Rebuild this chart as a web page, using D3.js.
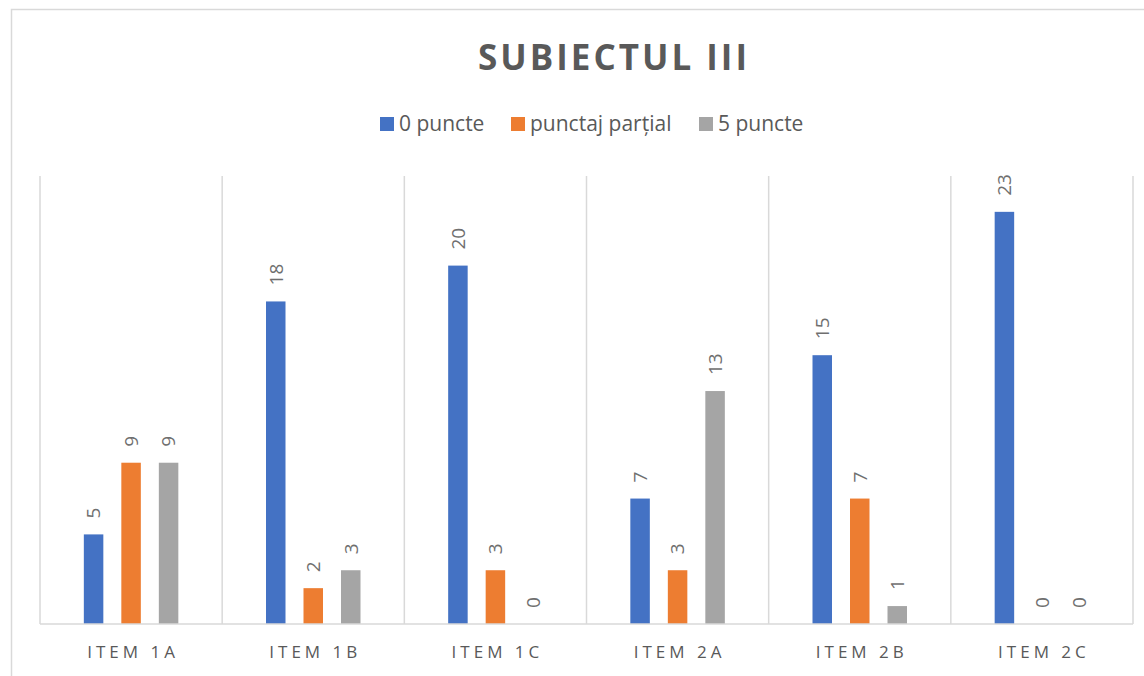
<!DOCTYPE html>
<html>
<head>
<meta charset="utf-8">
<script src="https://cdn.jsdelivr.net/npm/d3@7"></script>
<style>
  body { margin: 0; background: #fff; }
  svg { display: block; font-family: "Open Sans", "Noto Sans", sans-serif; }
</style>
</head>
<body>
<div id="chart"></div>
<script>
var categories = ["ITEM 1A", "ITEM 1B", "ITEM 1C", "ITEM 2A", "ITEM 2B", "ITEM 2C"];
var seriesNames = ["0 puncte", "punctaj parțial", "5 puncte"];
var zeroPoints = [5, 18, 20, 7, 15, 23];
var partialPoints = [9, 2, 3, 3, 7, 0];
var fivePoints = [9, 3, 0, 13, 1, 0];
var colors = ["#4472C4", "#ED7D31", "#A5A5A5"];

var width = 1144, height = 676;
var svg = d3.select("#chart").append("svg")
    .attr("width", width)
    .attr("height", height);

// chart border
svg.append("rect")
   .attr("x", 11.5).attr("y", 9.5)
   .attr("width", width).attr("height", height)
   .attr("fill", "none")
   .attr("stroke", "#D9D9D9")
   .attr("stroke-width", 1.5);

var allValues = [zeroPoints, partialPoints, fivePoints];
var data = categories.map(function(c, i) {
    return { cat: c, vals: seriesNames.map(function(s, j) { return { name: s, idx: j, v: allValues[j][i] }; }) };
});

var x0 = d3.scaleBand().domain(categories).range([40, 1133]);
var x1 = d3.scaleBand().domain(seriesNames)
    .range([-56.25, 56.25])
    .paddingInner(0.48).paddingOuter(0.24);
var y = d3.scaleLinear().domain([0, 25]).range([624, 176]);

// gridlines at category boundaries
var bounds = categories.map(function(c) { return x0(c); }).concat([x0.range()[1]]);
svg.append("g").selectAll("line").data(bounds).join("line")
   .attr("x1", function(d) { return d; }).attr("x2", function(d) { return d; })
   .attr("y1", y(25)).attr("y2", y(0))
   .attr("stroke", "#D9D9D9").attr("stroke-width", 1.5);

// bars
var groups = svg.append("g").selectAll("g").data(data).join("g")
   .attr("transform", function(d) { return "translate(" + (x0(d.cat) + x0.bandwidth() / 2) + ",0)"; });

groups.selectAll("rect").data(function(d) { return d.vals; }).join("rect")
   .attr("x", function(d) { return x1(d.name); })
   .attr("width", x1.bandwidth())
   .attr("y", function(d) { return y(d.v); })
   .attr("height", function(d) { return y(0) - y(d.v); })
   .attr("fill", function(d) { return colors[d.idx]; });

// value labels, rotated
groups.selectAll("text").data(function(d) { return d.vals; }).join("text")
   .attr("transform", function(d) {
       return "translate(" + (x1(d.name) + x1.bandwidth() / 2) + "," + (y(d.v) - 16) + ") rotate(-90)";
   })
   .attr("dy", "0.36em")
   .attr("text-anchor", "start")
   .attr("fill", "#6f6f6f")
   .attr("font-size", 19)
   .text(function(d) { return d.v; });

// baseline
svg.append("line")
   .attr("x1", 40).attr("x2", 1133)
   .attr("y1", y(0)).attr("y2", y(0))
   .attr("stroke", "#D9D9D9").attr("stroke-width", 1.5);

// category axis labels
var xAxis = d3.axisBottom(x0).tickSize(0).tickPadding(0);
var ax = svg.append("g").attr("transform", "translate(0," + y(0) + ")").call(xAxis);
ax.select(".domain").remove();
ax.selectAll("text")
  .attr("y", 34)
  .attr("dy", 0)
  .attr("dx", 2)
  .attr("fill", "#595959")
  .attr("font-size", 17)
  .attr("font-family", "\"Open Sans\", sans-serif")
  .style("letter-spacing", "4px");

// title
svg.append("text")
   .attr("x", 614).attr("y", 70)
   .attr("text-anchor", "middle")
   .attr("font-size", 35)
   .attr("font-weight", "bold")
   .attr("fill", "#595959")
   .style("letter-spacing", "3px")
   .text("SUBIECTUL III");

// legend
var legendX = [380, 511, 699];
var legend = svg.append("g").selectAll("g").data(seriesNames).join("g")
   .attr("transform", function(d, i) { return "translate(" + legendX[i] + ",117)"; });
legend.append("rect")
   .attr("width", 14).attr("height", 14)
   .attr("fill", function(d, i) { return colors[i]; });
legend.append("text")
   .attr("x", 19).attr("y", 14)
   .attr("font-size", 21)
   .attr("fill", "#595959")
   .text(function(d) { return d; });
</script>
</body>
</html>
